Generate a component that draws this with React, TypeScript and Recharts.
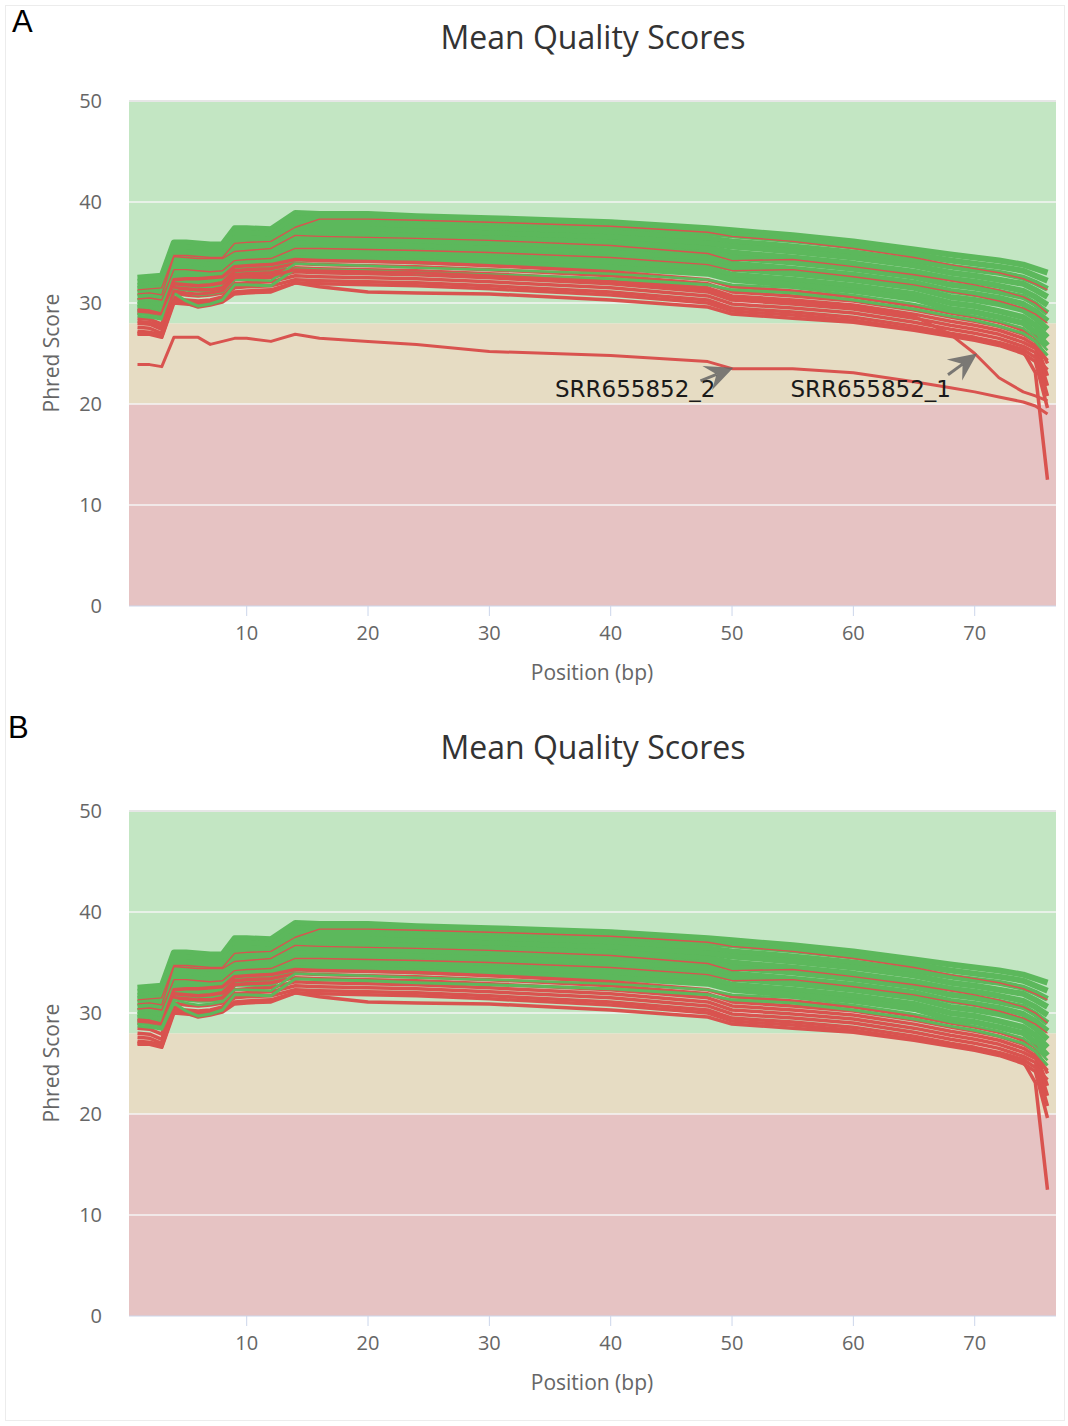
import React from 'react'
import { LineChart, Line, XAxis, YAxis, ReferenceArea, ReferenceLine } from 'recharts'

// Mean per-base quality (FastQC via MultiQC). Panel A shows all samples,
// panel B the same run with the two flagged SRR655852 files removed.

const POS = [1, 2, 3, 4, 5, 6, 7, 8, 9, 10, 12, 14, 16, 20, 24, 30, 40, 48, 50, 55, 60, 65, 68, 70, 72, 74, 75, 76]

// passing samples
const G1 = [32.5, 32.6, 32.7, 36.0, 36.0, 35.9, 35.8, 35.8, 37.4, 37.4, 37.3, 38.9, 38.8, 38.8, 38.6, 38.4, 38.0, 37.4, 37.2, 36.7, 36.1, 35.3, 34.8, 34.5, 34.2, 33.8, 33.4, 33.0]
const G2 = [32.1, 32.2, 32.3, 35.5, 35.5, 35.4, 35.3, 35.3, 36.9, 36.9, 36.8, 38.4, 38.3, 38.3, 38.1, 37.9, 37.5, 36.9, 36.7, 36.2, 35.6, 34.8, 34.2, 33.9, 33.6, 33.2, 32.7, 32.2]
const G3 = [31.7, 31.8, 31.9, 35.0, 35.0, 34.9, 34.8, 34.8, 36.4, 36.4, 36.3, 37.9, 37.8, 37.8, 37.6, 37.4, 37.0, 36.4, 36.1, 35.6, 35.0, 34.2, 33.6, 33.3, 33.0, 32.5, 32.0, 31.4]
const G4 = [31.4, 31.5, 31.4, 34.5, 34.5, 34.4, 34.3, 34.3, 35.9, 35.9, 35.8, 37.4, 37.3, 37.3, 37.1, 36.9, 36.5, 35.9, 35.6, 35.1, 34.5, 33.7, 33.0, 32.7, 32.3, 31.9, 31.3, 30.6]
const G5 = [31.0, 31.1, 31.0, 34.0, 34.0, 33.9, 33.8, 33.8, 35.4, 35.4, 35.3, 36.9, 36.8, 36.8, 36.6, 36.4, 36.0, 35.4, 35.0, 34.5, 33.9, 33.1, 32.4, 32.1, 31.7, 31.2, 30.6, 29.8]
const G6 = [30.6, 30.7, 30.6, 33.5, 33.5, 33.4, 33.3, 33.3, 34.9, 34.9, 34.8, 36.4, 36.3, 36.3, 36.1, 35.9, 35.5, 34.9, 34.5, 34.0, 33.4, 32.6, 31.8, 31.5, 31.1, 30.6, 29.9, 29.0]
const G7 = [30.2, 30.3, 30.2, 33.0, 33.0, 32.9, 32.8, 32.8, 34.4, 34.4, 34.3, 35.9, 35.8, 35.8, 35.6, 35.4, 35.0, 34.4, 33.9, 33.4, 32.8, 32.0, 31.2, 30.9, 30.5, 29.9, 29.2, 28.2]
const G8 = [29.8, 29.9, 29.8, 32.5, 32.5, 32.4, 32.3, 32.3, 33.9, 33.9, 33.8, 35.4, 35.3, 35.3, 35.1, 34.9, 34.5, 33.9, 33.4, 32.9, 32.3, 31.5, 30.6, 30.3, 29.9, 29.3, 28.5, 27.4]
const G9 = [29.5, 29.6, 29.3, 32.0, 32.0, 31.9, 31.8, 31.8, 33.4, 33.4, 33.3, 34.9, 34.8, 34.8, 34.6, 34.4, 34.0, 33.4, 32.8, 32.3, 31.7, 30.9, 30.0, 29.7, 29.2, 28.6, 27.8, 26.6]
const G10 = [29.1, 29.2, 28.9, 31.5, 31.4, 31.3, 31.3, 31.4, 32.9, 32.9, 32.8, 34.4, 34.3, 34.3, 34.1, 33.9, 33.5, 32.9, 32.3, 31.8, 31.2, 30.4, 29.4, 29.1, 28.6, 28.0, 27.1, 25.8]
const G11 = [28.7, 28.6, 28.4, 31.0, 30.2, 29.7, 29.9, 30.3, 31.8, 31.8, 31.7, 33.4, 33.3, 33.2, 33.0, 32.8, 32.4, 31.8, 31.3, 31.0, 30.3, 29.4, 28.7, 28.3, 27.7, 27.0, 26.2, 24.8]
const G12 = [28.9, 28.8, 28.6, 31.3, 31.0, 30.8, 30.9, 31.1, 32.3, 32.3, 32.2, 33.9, 33.8, 33.7, 33.5, 33.3, 32.9, 32.3, 31.8, 31.5, 30.8, 29.9, 29.1, 28.7, 28.2, 27.5, 26.6, 25.3]

// failing samples
const R1 = [29.3, 29.2, 28.9, 32.3, 32.4, 32.4, 32.5, 32.6, 33.6, 33.7, 33.8, 34.3, 34.2, 34.1, 34.0, 33.7, 33.1, 32.3, 31.6, 31.2, 30.6, 29.7, 29.0, 28.6, 28.1, 27.3, 26.6, 24.0]
const R2 = [29.0, 28.9, 28.5, 31.9, 31.8, 31.7, 31.8, 32.0, 33.2, 33.3, 33.4, 33.9, 33.8, 33.7, 33.6, 33.3, 32.7, 31.9, 31.1, 30.7, 30.2, 29.3, 28.6, 28.2, 27.7, 26.9, 26.2, 22.8]
const R3 = [28.5, 28.4, 27.9, 31.5, 31.4, 31.3, 31.3, 31.5, 32.8, 32.9, 33.0, 33.5, 33.4, 33.3, 33.2, 32.9, 32.3, 31.5, 30.7, 30.3, 29.8, 28.9, 28.2, 27.8, 27.3, 26.5, 25.8, 21.8]
const R4 = [28.0, 27.9, 27.4, 31.0, 30.8, 30.7, 30.8, 31.0, 32.3, 32.4, 32.5, 33.1, 33.0, 32.9, 32.8, 32.5, 31.9, 31.1, 30.3, 29.9, 29.4, 28.5, 27.8, 27.4, 26.9, 26.1, 25.5, 24.3]
const R5 = [27.6, 27.5, 27.0, 30.6, 30.2, 29.9, 30.2, 30.5, 31.9, 32.0, 32.1, 32.7, 32.6, 32.5, 32.4, 32.1, 31.5, 30.7, 29.9, 29.5, 29.0, 28.1, 27.4, 27.0, 26.5, 25.7, 25.1, 20.8]
const R6 = [27.2, 27.1, 26.8, 30.4, 30.3, 30.2, 30.3, 30.6, 31.5, 31.6, 31.7, 32.3, 32.2, 32.1, 32.0, 31.7, 31.1, 30.3, 29.5, 29.1, 28.6, 27.7, 27.0, 26.6, 26.1, 25.4, 24.6, 23.4]
const R7 = [26.9, 26.9, 26.6, 30.0, 29.9, 29.8, 30.0, 30.3, 31.1, 31.2, 31.3, 32.0, 31.9, 31.8, 31.7, 31.4, 30.8, 30.0, 29.2, 28.8, 28.3, 27.4, 26.8, 26.4, 25.9, 25.2, 23.1, 12.5]
const R8 = [27.0, 27.0, 26.7, 30.2, 30.0, 29.6, 29.8, 30.1, 30.9, 31.0, 31.1, 32.0, 31.6, 31.1, 31.0, 30.9, 30.3, 29.6, 28.9, 28.5, 28.1, 27.3, 26.7, 26.3, 25.8, 25.0, 24.2, 19.6]
// failing samples that sit inside the passing band
const RA = [31.3, 31.4, 31.5, 34.7, 34.7, 34.6, 34.5, 34.5, 35.9, 36.0, 36.1, 37.5, 38.3, 38.3, 38.2, 38.0, 37.6, 37.0, 36.6, 36.1, 35.4, 34.5, 33.8, 33.4, 33.0, 32.4, 31.9, 31.3]
const RB = [30.9, 31.0, 30.8, 34.6, 34.5, 34.4, 34.4, 34.4, 35.1, 35.2, 35.4, 36.7, 36.6, 36.5, 36.4, 36.2, 35.7, 34.9, 34.2, 34.3, 33.6, 32.8, 32.2, 31.8, 31.3, 30.6, 30.0, 29.0]
const RC = [30.4, 30.5, 30.3, 33.3, 33.3, 33.2, 33.1, 33.2, 34.2, 34.3, 34.4, 35.4, 35.4, 35.3, 35.2, 35.0, 34.5, 33.8, 33.2, 33.3, 32.6, 31.8, 31.1, 30.7, 30.2, 29.5, 28.9, 28.0]
// the two flagged files
const SRR_1 = [28.2, 28.1, 27.7, 31.2, 31.0, 30.9, 31.0, 31.2, 32.5, 32.6, 32.7, 33.3, 33.2, 33.1, 33.0, 32.7, 32.1, 31.3, 30.5, 30.1, 29.6, 28.7, 26.9, 25.0, 22.6, 21.2, 20.8, 20.3]
const SRR_2 = [23.9, 23.9, 23.7, 26.6, 26.6, 26.6, 25.9, 26.2, 26.5, 26.5, 26.2, 26.9, 26.5, 26.2, 25.9, 25.2, 24.8, 24.2, 23.5, 23.5, 23.1, 22.2, 21.6, 21.2, 20.7, 20.2, 19.8, 19.0]

const X_TICKS = [10, 20, 30, 40, 50, 60, 70]
const Y_TICKS = [0, 10, 20, 30, 40, 50]
const BAND_LIMITS = [0, 20, 28, 50]

const NOTES = [
  { label: 'SRR655852_2', tail: { x: 47.4, y: 22.3 }, tip: { x: 50.1, y: 23.6 }, dx: 15, dy: 16 },
  { label: 'SRR655852_1', tail: { x: 67.8, y: 22.9 }, tip: { x: 70.2, y: 25.0 }, dx: 3, dy: 22 },
]

const GREEN = '#5cb85c'
const RED = '#d9534f'
const BAND_FILLS = ['#e6c3c3', '#e6dcc3', '#c3e6c3']
const SANS = "'Open Sans', sans-serif"

type Spec = { key: string; values: number[]; color: string; width: number; flagged?: boolean }

const SERIES: Spec[] = [
  ...[G1, G2, G3, G4, G5, G6, G7, G8, G9, G10].map((v, i) => ({ key: `g${i + 1}`, values: v, color: GREEN, width: 6 })),
  ...[R1, R2, R3, R4, R5, R6, R7, R8].map((v, i) => ({ key: `r${i + 1}`, values: v, color: RED, width: 3.5 })),
  { key: 'g11', values: G11, color: GREEN, width: 3 },
  { key: 'g12', values: G12, color: GREEN, width: 2.5 },
  ...[RA, RB, RC].map((v, i) => ({ key: `ri${i + 1}`, values: v, color: RED, width: 1.4 })),
  { key: 'srr1', values: SRR_1, color: RED, width: 3, flagged: true },
  { key: 'srr2', values: SRR_2, color: RED, width: 3, flagged: true },
]

const ROWS = POS.map((pos, i) => {
  const row: Record<string, number> = { pos }
  SERIES.forEach((s) => {
    row[s.key] = s.values[i]
  })
  return row
})

function noteShape(note: (typeof NOTES)[number]) {
  return (p: any) => {
    const { x1, y1, x2, y2 } = p
    const ang = Math.atan2(y2 - y1, x2 - x1)
    const ux = Math.cos(ang)
    const uy = Math.sin(ang)
    const nx = -uy
    const ny = ux
    const len = 28
    const half = 13
    const notch = 18
    const bx = x2 - ux * len
    const by = y2 - uy * len
    const pts = [
      [x2, y2],
      [bx + nx * half, by + ny * half],
      [x2 - ux * notch, y2 - uy * notch],
      [bx - nx * half, by - ny * half],
    ]
      .map((q) => q.join(','))
      .join(' ')
    return (
      <g>
        <line x1={x1} y1={y1} x2={x2 - ux * notch} y2={y2 - uy * notch} stroke="#666" strokeWidth={3} opacity={0.85} />
        <polygon points={pts} fill="#666" opacity={0.85} />
        <text x={x1 + note.dx} y={y1 + note.dy} textAnchor="end" fontSize={23} fontFamily="'DejaVu Sans', sans-serif" fill="#1a1a1a">
          {note.label}
        </text>
      </g>
    )
  }
}

function Panel({ letter, top, withFlagged }: { letter: string; top: number; withFlagged: boolean }) {
  const series = SERIES.filter((s) => withFlagged || !s.flagged)
  return (
    <div style={{ position: 'absolute', left: 0, top, width: 1068, height: 710 }}>
      <div style={{ position: 'absolute', left: letter === 'A' ? 12 : 8, top: letter === 'A' ? 4 : 0, fontFamily: "'Liberation Sans', Arial, sans-serif", fontSize: 31, lineHeight: '36px', color: '#000' }}>
        {letter}
      </div>
      <div style={{ position: 'absolute', left: 293, width: 600, top: 17, textAlign: 'center', fontFamily: SANS, fontSize: 32, lineHeight: '40px', color: '#333' }}>
        Mean Quality Scores
      </div>
      <div style={{ position: 'absolute', left: 292, width: 600, top: 657, textAlign: 'center', fontFamily: SANS, fontSize: 21, lineHeight: '30px', color: '#666' }}>
        Position (bp)
      </div>
      <div style={{ position: 'absolute', left: 51 - 100, width: 200, top: 353 - 15, height: 30, textAlign: 'center', transform: 'rotate(-90deg)', fontFamily: SANS, fontSize: 21, lineHeight: '30px', color: '#666' }}>
        Phred Score
      </div>
      <LineChart width={1068} height={710} data={ROWS} margin={{ top: 101, right: 12, bottom: 74, left: 0 }} style={{ position: 'absolute', left: 0, top: 0 }}>
        <XAxis
          dataKey="pos"
          type="number"
          domain={[0.3, 76.7]}
          allowDataOverflow
          ticks={X_TICKS}
          height={30}
          stroke="#ccd6eb"
          tickSize={10}
          tickMargin={10}
          tick={{ fill: '#666', fontSize: 20, fontFamily: SANS }}
        />
        <YAxis
          type="number"
          domain={[0, 50]}
          ticks={Y_TICKS}
          width={129}
          axisLine={false}
          tickLine={false}
          tickSize={0}
          tickMargin={27}
          tick={{ fill: '#666', fontSize: 20, fontFamily: SANS }}
        />
        {BAND_FILLS.map((fill, i) => (
          <ReferenceArea key={fill} y1={BAND_LIMITS[i]} y2={BAND_LIMITS[i + 1]} fill={fill} fillOpacity={1} strokeWidth={0} />
        ))}
        {Y_TICKS.filter((t) => t > 0).map((t) => (
          <ReferenceLine key={t} y={t} stroke={t === 50 ? '#e6e6e6' : '#f4f4f4'} strokeOpacity={t === 50 ? 1 : 0.75} strokeWidth={2} />
        ))}
        {series.map((s) => (
          <Line
            key={s.key}
            dataKey={s.key}
            type="linear"
            stroke={s.color}
            strokeWidth={s.width}
            strokeLinejoin="round"
            dot={false}
            activeDot={false}
            isAnimationActive={false}
          />
        ))}
        {withFlagged &&
          NOTES.map((n) => (
            <ReferenceLine key={n.label} segment={[n.tail, n.tip]} shape={noteShape(n)} />
          ))}
      </LineChart>
    </div>
  )
}

export default function App() {
  return (
    <div style={{ position: 'absolute', left: 0, top: 0, width: 1068, height: 1426, background: '#fff', overflow: 'hidden' }}>
      <div style={{ position: 'absolute', left: 5, top: 5, width: 1058, height: 1414, border: '1px solid #ececec' }} />
      <Panel letter="A" top={0} withFlagged />
      <Panel letter="B" top={710} withFlagged={false} />
    </div>
  )
}
